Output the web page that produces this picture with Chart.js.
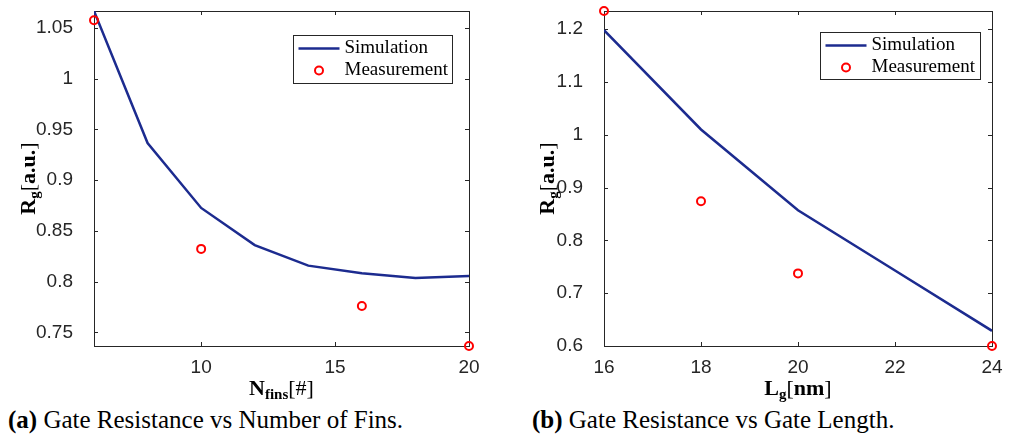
<!DOCTYPE html>
<html>
<head>
<meta charset="utf-8">
<script src="https://cdn.jsdelivr.net/npm/chart.js@4/dist/chart.umd.min.js"></script>
<style>
  body { margin: 0; background: #fff; width: 1009px; height: 441px; position: relative; overflow: hidden; }
  canvas { position: absolute; top: 0; }
  #finsCanvas { left: 0; }
  #lengthCanvas { left: 510px; }
  .caption { position: absolute; top: 407px; font: 25px "Liberation Serif", serif; line-height: 25px; color: #000; white-space: nowrap; }
</style>
</head>
<body>
<canvas id="finsCanvas" width="490" height="405"></canvas>
<canvas id="lengthCanvas" width="499" height="405"></canvas>
<div class="caption" style="left:8px"><b>(a)</b> Gate Resistance vs Number of Fins.</div>
<div class="caption" style="left:532px"><b>(b)</b> Gate Resistance vs Gate Length.</div>
<script>
// (a) resistance vs number of fins
const finsX = [6, 8, 10, 12, 14, 16, 18, 20];
const finsSim = [1.0667, 0.9366, 0.8726, 0.836, 0.8157, 0.8082, 0.8036, 0.8056];
const finsMeasX = [6, 10, 16, 20];
const finsMeas = [1.0576, 0.8322, 0.776, 0.7365];
const finsXTicks = [10, 15, 20];
const finsYTicks = [0.75, 0.8, 0.85, 0.9, 0.95, 1, 1.05];

// (b) resistance vs gate length
const lenX = [16, 18, 20, 22, 24];
const lenSim = [1.198, 1.010, 0.857, 0.743, 0.6287];
const lenMeasX = [16, 18, 20, 24];
const lenMeas = [1.2343, 0.874, 0.7375, 0.6];
const lenXTicks = [16, 18, 20, 22, 24];
const lenYTicks = [0.6, 0.7, 0.8, 0.9, 1, 1.1, 1.2];

const seriesLabels = ['Simulation', 'Measurement'];

const AXIS = '#262626';
const SERIF = '"Liberation Serif", serif';
const BLUE = '#1c2b8f';
const RED = '#ff0000';

// draws a list of text pieces (subscripts etc) centred on x
function drawParts(ctx, parts, cx, baseY) {
    let w = 0;
    parts.forEach(p => { ctx.font = p.f; w += ctx.measureText(p.t).width; });
    let x = cx - w / 2;
    ctx.textAlign = 'left';
    ctx.textBaseline = 'alphabetic';
    parts.forEach(p => {
        ctx.font = p.f;
        ctx.fillText(p.t, x, baseY + (p.dy || 0));
        x += ctx.measureText(p.t).width;
    });
}

const boxPlugin = {
    id: 'box',
    beforeDatasetsDraw(chart, args, opts) {
        const ctx = chart.ctx;
        const a = chart.chartArea;
        const xs = chart.scales.x, ys = chart.scales.y;
        ctx.save();
        ctx.strokeStyle = AXIS;
        ctx.lineWidth = 1;
        ctx.strokeRect(Math.round(a.left) + 0.5, Math.round(a.top) + 0.5,
            Math.round(a.right - a.left), Math.round(a.bottom - a.top));
        const tl = 4;
        ctx.beginPath();
        xs.ticks.forEach(t => {
            const px = Math.round(xs.getPixelForValue(t.value)) + 0.5;
            ctx.moveTo(px, a.bottom); ctx.lineTo(px, a.bottom - tl);
            ctx.moveTo(px, a.top); ctx.lineTo(px, a.top + tl);
        });
        ys.ticks.forEach(t => {
            const py = Math.round(ys.getPixelForValue(t.value)) + 0.5;
            ctx.moveTo(a.left, py); ctx.lineTo(a.left + tl, py);
            ctx.moveTo(a.right, py); ctx.lineTo(a.right - tl, py);
        });
        ctx.stroke();

        // axis titles
        ctx.fillStyle = '#000';
        drawParts(ctx, opts.xTitle, (a.left + a.right) / 2, opts.xTitleY);
        ctx.translate(opts.yTitleX, (a.top + a.bottom) / 2);
        ctx.rotate(-Math.PI / 2);
        drawParts(ctx, opts.yTitle, 0, 0);
        ctx.restore();
    },
    afterDraw(chart, args, opts) {
        const ctx = chart.ctx;
        const a = chart.chartArea;
        const ds = chart.data.datasets;
        const w = opts.legendW, h = opts.legendH;
        const x = Math.round(a.right - opts.legendRight - w) + 0.5;
        const y = Math.round(a.top + opts.legendTop) + 0.5;
        ctx.save();
        ctx.fillStyle = '#fff';
        ctx.fillRect(x, y, w, h);
        ctx.strokeStyle = AXIS;
        ctx.lineWidth = 1;
        ctx.strokeRect(x, y, w, h);
        const r1 = y + 13, r2 = y + 35;
        ctx.strokeStyle = ds[0].borderColor;
        ctx.lineWidth = ds[0].borderWidth;
        ctx.beginPath();
        ctx.moveTo(x + 5, r1); ctx.lineTo(x + 46, r1);
        ctx.stroke();
        ctx.strokeStyle = ds[1].pointBorderColor;
        ctx.lineWidth = ds[1].pointBorderWidth;
        ctx.beginPath();
        ctx.arc(x + 25.5, r2, ds[1].pointRadius, 0, Math.PI * 2);
        ctx.stroke();
        ctx.fillStyle = '#000';
        ctx.font = '19px ' + SERIF;
        ctx.textAlign = 'left';
        ctx.textBaseline = 'middle';
        ctx.fillText(ds[0].label, x + 51, r1);
        ctx.fillText(ds[1].label, x + 51, r2);
        ctx.restore();
    }
};

function fmt(v) { return String(+(+v).toFixed(2)); }

function makeChart(id, simX, simY, measX, measY, xMin, xMax, yMin, yMax, xTicks, yTicks, decor) {
    return new Chart(document.getElementById(id), {
        type: 'scatter',
        data: {
            datasets: [{
                label: seriesLabels[0],
                type: 'line',
                data: simX.map((x, i) => ({ x: x, y: simY[i] })),
                borderColor: BLUE,
                borderWidth: 2.5,
                pointRadius: 0,
                fill: false,
                tension: 0,
                order: 2
            }, {
                label: seriesLabels[1],
                data: measX.map((x, i) => ({ x: x, y: measY[i] })),
                pointStyle: 'circle',
                pointRadius: 4,
                pointBorderWidth: 2,
                pointBorderColor: RED,
                pointBackgroundColor: 'rgba(0,0,0,0)',
                borderColor: RED,
                clip: false,
                order: 1
            }]
        },
        options: {
            responsive: false,
            animation: false,
            layout: { padding: { top: 11, right: decor.padRight, left: 0, bottom: 0 } },
            plugins: {
                legend: { display: false },
                tooltip: { enabled: false },
                box: decor
            },
            scales: {
                x: {
                    type: 'linear',
                    min: xMin, max: xMax,
                    grid: { display: false },
                    border: { display: false },
                    afterBuildTicks: s => { s.ticks = xTicks.map(v => ({ value: v })); },
                    afterFit: s => { s.height = 59; s.paddingLeft = 0; s.paddingRight = 0; },
                    ticks: {
                        color: AXIS,
                        padding: 2,
                        maxRotation: 0,
                        font: { family: '"Liberation Sans", Arial, sans-serif', size: 19 },
                        callback: v => fmt(v)
                    }
                },
                y: {
                    type: 'linear',
                    min: yMin, max: yMax,
                    grid: { display: false },
                    border: { display: false },
                    afterBuildTicks: s => { s.ticks = yTicks.map(v => ({ value: v })); },
                    afterFit: s => { s.width = 94; s.paddingTop = 0; s.paddingBottom = 0; },
                    ticks: {
                        color: AXIS,
                        padding: 13,
                        font: { family: '"Liberation Sans", Arial, sans-serif', size: 19 },
                        callback: v => fmt(v)
                    }
                }
            }
        },
        plugins: [boxPlugin]
    });
}

const B = 'bold 22px ' + SERIF;
const BS = 'bold 15px ' + SERIF;
const R = '22px ' + SERIF;
const yTitle = [
    { t: 'R', f: B }, { t: 'g', f: BS, dy: 4 },
    { t: '[', f: R }, { t: 'a.u.', f: B }, { t: ']', f: R }
];

makeChart('finsCanvas', finsX, finsSim, finsMeasX, finsMeas, 6, 20, 0.7365, 1.0667, finsXTicks, finsYTicks, {
    padRight: 21,
    xTitle: [{ t: 'N', f: B }, { t: 'fins', f: BS, dy: 4 }, { t: '[', f: R }, { t: '#', f: R }, { t: ']', f: R }],
    xTitleY: 395,
    yTitle: yTitle,
    yTitleX: 35,
    legendW: 159, legendH: 48, legendRight: 17, legendTop: 24
});

makeChart('lengthCanvas', lenX, lenSim, lenMeasX, lenMeas, 16, 24, 0.6, 1.2343, lenXTicks, lenYTicks, {
    padRight: 17,
    xTitle: [{ t: 'L', f: B }, { t: 'g', f: BS, dy: 4 }, { t: '[', f: R }, { t: 'nm', f: B }, { t: ']', f: R }],
    xTitleY: 395,
    yTitle: yTitle,
    yTitleX: 44,
    legendW: 160, legendH: 47, legendRight: 12, legendTop: 21
});
</script>
</body>
</html>
